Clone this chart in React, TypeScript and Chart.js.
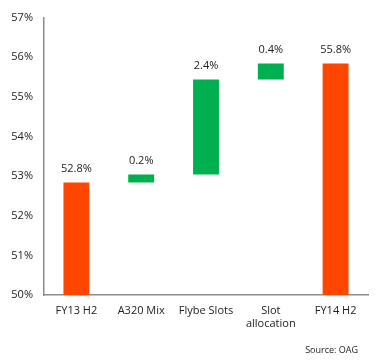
import React, { useEffect, useRef } from "react";
import { Chart, registerables } from "chart.js";

Chart.register(...registerables);

const categories: (string | string[])[] = ["FY13 H2", "A320 Mix", "Flybe Slots", ["Slot", "allocation"], "FY14 H2"];
const barStarts = [50, 52.84, 53.04, 55.44, 50];
const barEnds = [52.84, 53.04, 55.44, 55.84, 55.84];
const valueLabels = ["52.8%", "0.2%", "2.4%", "0.4%", "55.8%"];
const barColors = ["#FF4600", "#00B050", "#00B050", "#00B050", "#FF4600"];
const yTicks = [50, 51, 52, 53, 54, 55, 56, 57];
const sourceText = "Source: OAG";

const FONT = "'Open Sans', sans-serif";

export default function App() {
  const ref = useRef<HTMLCanvasElement | null>(null);
  useEffect(() => {
    if (!ref.current) return;
    const labelPlugin = {
      id: "labels",
      afterDatasetsDraw(chart: any) {
        const ctx = chart.ctx;
        const meta = chart.getDatasetMeta(0);
        ctx.save();
        ctx.font = `11px ${FONT}`;
        ctx.fillStyle = "#222";
        ctx.textAlign = "center";
        ctx.textBaseline = "middle";
        meta.data.forEach((el: any, i: number) => {
          const top = Math.min(el.y, el.base);
          ctx.fillText(valueLabels[i], el.x, top - 14);
        });
        ctx.font = `9px ${FONT}`;
        ctx.textAlign = "right";
        ctx.fillText(sourceText, 358, 350);
        ctx.restore();
      },
    };
    const chart = new Chart(ref.current, {
      type: "bar",
      data: {
        labels: categories,
        datasets: [
          {
            data: barStarts.map((s, i) => [s, barEnds[i]]) as any,
            backgroundColor: barColors,
            borderWidth: 0,
            barPercentage: 0.4,
            categoryPercentage: 1,
          },
        ],
      },
      options: {
        animation: false,
        responsive: false,
        maintainAspectRatio: false,
        layout: { padding: { left: 0, top: 15, right: 9, bottom: 28 } },
        plugins: { legend: { display: false }, tooltip: { enabled: false } },
        scales: {
          x: {
            grid: { display: false, drawTicks: false },
            border: { display: true, color: "#8c8c8c", width: 1.5 },
            ticks: { color: "#222", font: { family: FONT, size: 11 }, padding: 9, maxRotation: 0, autoSkip: false },
            afterFit(scale: any) {
              scale.height = 40;
            },
          },
          y: {
            min: 50,
            max: 57,
            grid: { display: false, drawTicks: false },
            border: { display: true, color: "#8c8c8c", width: 1.5 },
            afterBuildTicks(scale: any) {
              scale.ticks = yTicks.map((v) => ({ value: v }));
            },
            ticks: {
              color: "#222",
              font: { family: FONT, size: 11 },
              padding: 11,
              callback: (v: any) => `${v}%`,
            },
            afterFit(scale: any) {
              scale.width = 44;
            },
          },
        },
      },
      plugins: [labelPlugin],
    });
    return () => chart.destroy();
  }, []);
  return (
    <div style={{ position: "absolute", left: 0, top: 0, width: 377, height: 363, background: "#fff" }}>
      <canvas ref={ref} width={377} height={363} style={{ display: "block" }} />
    </div>
  );
}
